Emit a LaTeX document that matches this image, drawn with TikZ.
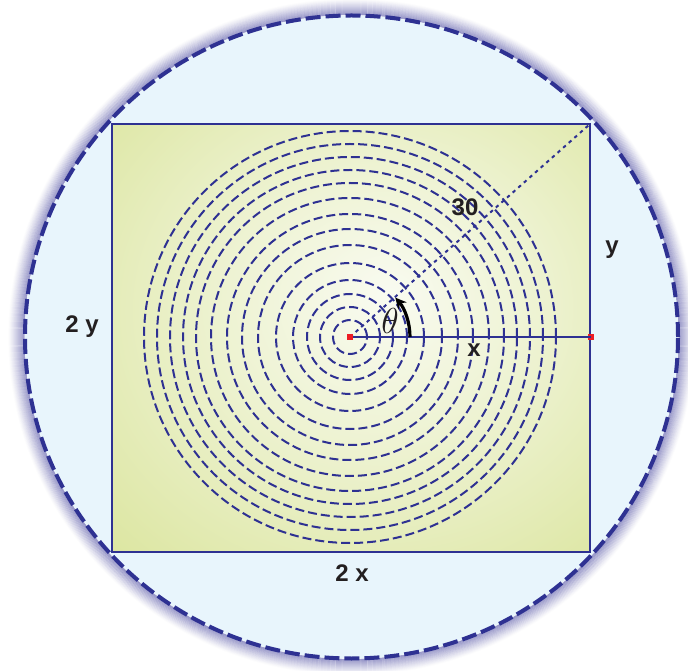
\documentclass[tikz,border=0pt]{standalone}
\usepackage{fontspec}
\setmainfont{Liberation Sans}
\usetikzlibrary{arrows.meta}
\definecolor{navy}{HTML}{2E3192}
\definecolor{glowc}{HTML}{5A59A8}
\definecolor{skyfill}{HTML}{E8F5FC}
\definecolor{rc0}{HTML}{F9FBF1}
\definecolor{rc1}{HTML}{EEF3D3}
\definecolor{rc2}{HTML}{DBE59E}
\definecolor{rc3}{HTML}{D0DE86}
\definecolor{redpt}{HTML}{ED1C24}
\definecolor{txt}{HTML}{231F20}
\pgfdeclareradialshading{rectshade}{\pgfpoint{4bp}{5bp}}{color(0bp)=(rc0); color(16bp)=(rc1); color(40bp)=(rc2); color(72bp)=(rc3)}
\begin{document}
\begin{tikzpicture}[x=1pt,y=1pt,
  ring/.style={draw=navy, line width=2pt, dash pattern=on 9pt off 4pt},
  outerring/.style={draw=navy, line width=4pt, dash pattern=on 15pt off 5pt, fill=skyfill},
  dotline/.style={draw=navy, line width=2pt, dash pattern=on 3.5pt off 4pt},
  radius line/.style={draw=navy, line width=2.2pt},
  anglearc/.style={draw=black, line width=3.2pt, -{Stealth[length=11pt,width=11pt]}},
  redsq/.style={fill=redpt, minimum size=6pt, inner sep=0pt, outer sep=0pt},
  lbl/.style={text=txt, font=\bfseries\fontsize{24}{24}\selectfont, inner sep=0pt}]
\useasboundingbox (0,0) rectangle (688,670);
\fill[white] (0,0) rectangle (688,670);
% glow around the outer circle
\foreach \i [evaluate=\i as \op using {0.6*(1-\i/17)^1.3}] in {1,...,16}
  \draw[glowc, line width=1.2pt, opacity=\op] (351.5,333) ellipse [x radius={326.5+\i}, y radius={321.5+\i}];
% outer circle
\path[outerring] (351.5,333) ellipse [x radius=326.5, y radius=321.5];
% rectangle
\shade[shading=rectshade] (112,118) rectangle (590,546);
\draw[navy, line width=2pt] (112,118) rectangle (590,546);
% concentric dashed circles
\coordinate (c) at (350,333);
\foreach \r in {17,30,43,57,74,92,108,123,139,154,167,180,193,206}
  \draw[ring] (c) circle [radius=\r];
% corner and diagonal
\coordinate (corner) at (590,546);
\draw[dotline] (c) -- (corner);
% radius line to right side
\node[redsq] (ptr) at (591,333) {};
\draw[radius line] (c) -- (ptr.center);
% angle arc
\draw[anglearc] ([shift={(0:60)}]c) arc[start angle=0, end angle=41, radius=60];
\node[redsq] (ptc) at (c) {};
% labels
\node[lbl] (l30) at (465,463) {30};
\node[lbl] (ly) at (612,420) {y};
\node[lbl] (lx) at (474,320) {x};
\node[lbl] (l2y) at (82,343) {2 y};
\node[lbl] (l2x) at (352,97) {2 x};
\node[inner sep=0pt, text=txt, scale=1.45, font=\fontsize{24}{24}\selectfont] (th) at (390,349) {$\theta$};
\end{tikzpicture}
\end{document}
